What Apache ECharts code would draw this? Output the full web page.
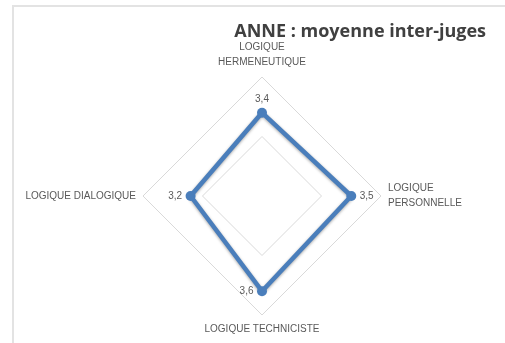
<!DOCTYPE html>
<html><head><meta charset="utf-8">
<script src="https://cdn.jsdelivr.net/npm/echarts@6/dist/echarts.min.js"></script>
<style>
html,body{margin:0;padding:0;background:#fff;}
#frame{position:absolute;left:12px;top:5px;width:493px;height:338px;border-left:2px solid #e3e3e3;border-top:2px solid #e3e3e3;}
#c{position:absolute;left:0;top:0;width:505px;height:343px;}
</style></head>
<body>
<div id="frame"></div>
<div id="c"></div>
<script>
var title = 'ANNE : moyenne inter-juges';
// order: top, left, bottom, right (ECharts places indicators counter-clockwise)
var categories = ['LOGIQUE\nHERMENEUTIQUE', 'LOGIQUE DIALOGIQUE', 'LOGIQUE TECHNICISTE', 'LOGIQUE\nPERSONNELLE'];
var values = [3.4, 3.2, 3.6, 3.5];
var axisMin = 2, axisMax = 4;
var labelPositions = ['top', 'left', 'left', 'right'];

var chart = echarts.init(document.getElementById('c'));
var fontFam = '"Liberation Sans Narrow", "Liberation Sans", Arial, sans-serif';
var series = [{
  type: 'radar',
  data: [{ value: values }],
  symbol: 'circle',
  symbolSize: 10,
  lineStyle: { color: '#4a7ebb', width: 4.5, shadowColor: 'rgba(0,0,0,0.35)', shadowBlur: 3, shadowOffsetY: 1 },
  itemStyle: { color: '#4a7ebb' },
  z: 3
}];
values.forEach(function (v, k) {
  series.push({
    type: 'radar',
    data: [{ value: values }],
    symbol: 'circle',
    symbolSize: 1,
    lineStyle: { opacity: 0 },
    itemStyle: { color: 'transparent' },
    silent: true,
    z: 4,
    label: {
      show: true,
      position: labelPositions[k],
      distance: 8,
      color: '#595959',
      fontSize: 10,
      fontFamily: fontFam,
      formatter: function (p) {
        return p.value === values[k] ? String(values[k]).replace('.', ',') : '';
      }
    }
  });
});

chart.setOption({
  animation: false,
  title: {
    text: title,
    right: 14, top: 18,
    textStyle: { fontSize: 18, fontWeight: 'bold', color: '#404040', fontFamily: '"Open Sans", "Liberation Sans", sans-serif' }
  },
  radar: {
    center: [262, 196],
    radius: 119,
    shape: 'polygon',
    splitNumber: 2,
    indicator: categories.map(function (c) { return { name: c, min: axisMin, max: axisMax }; }),
    axisName: { color: '#595959', fontSize: 10, fontFamily: fontFam, lineHeight: 15 },
    nameGap: 7,
    axisLine: { show: false },
    splitLine: { lineStyle: { color: '#d9d9d9', width: 1 } },
    splitArea: { show: false }
  },
  series: series
});
</script>
</body></html>
